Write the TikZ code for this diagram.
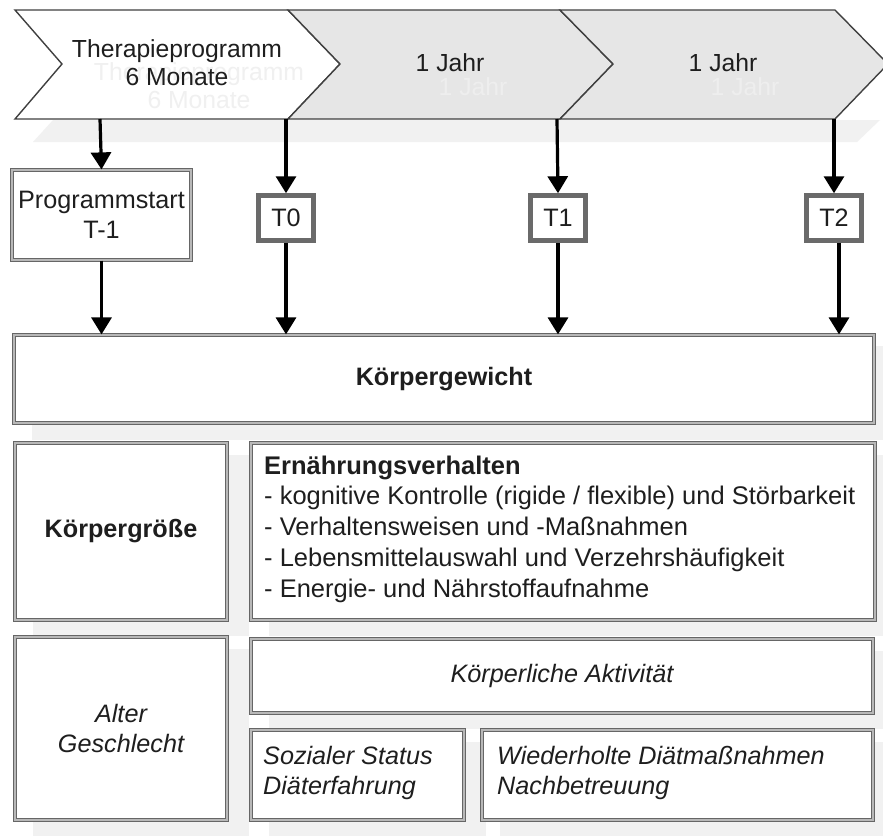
\documentclass[tikz,border=0pt]{standalone}
\usepackage{fontspec}
\setmainfont{Liberation Sans}
\usetikzlibrary{arrows.meta}
\definecolor{boxline}{HTML}{666666}
\definecolor{boxgap}{HTML}{B8B8B8}
\definecolor{tline}{HTML}{6A6A6A}
\definecolor{chevline}{HTML}{404040}
\definecolor{chevfill}{HTML}{E6E6E6}
\definecolor{shadc}{HTML}{F1F1F1}
\definecolor{ghostc}{HTML}{F0F0F0}
\definecolor{ghostd}{HTML}{EEEEEE}
\definecolor{txtc}{HTML}{1E1E1E}
\tikzset{
 chev/.style={draw=chevline, line width=1.4pt, line join=miter},
 dbox/.style={draw=boxline, double=boxgap, double distance=1.6pt, line width=1.2pt, fill=white, inner sep=0pt, text=txtc, align=center},
 tbox/.style={draw=tline, line width=4.5pt, fill=white, minimum width=55pt, minimum height=45pt, inner sep=0pt, text=txtc},
 arr/.style={draw=black, line width=3.2pt, -{Triangle[length=17pt,width=20pt]}},
 shad/.style={fill=shadc, draw=none},
 ghost/.style={align=center, inner sep=0pt, font=\fontsize{24.7}{28}\selectfont},
 txt/.style={text=txtc, inner sep=0pt},
}
\begin{document}
\begin{tikzpicture}[x=1pt,y=-1pt, font=\fontsize{25.2}{30}\selectfont]
\useasboundingbox (0,0) rectangle (883,836);
\fill[white] (0,0) rectangle (883,836);
% faint reflection band below chevrons
\fill[shadc] (33,142) -- (53,120) -- (880,120) -- (857,142) -- cycle;
% faint shadows of the lower boxes
\fill[shad] (32,346) rectangle (883,440);
\fill[shad] (33,455) rectangle (249,636);
\fill[shad] (269,455) rectangle (883,636);
\fill[shad] (33,649) rectangle (249,836);
\fill[shad] (269,651) rectangle (883,729);
\fill[shad] (269,742) rectangle (486,836);
\fill[shad] (500,742) rectangle (883,836);
% chevrons
\draw[chev, fill=white] (15,10) -- (288,10) -- (340,64) -- (288,119) -- (15,119) -- (62,64) -- cycle;
\draw[chev, fill=chevfill] (288,10) -- (560,10) -- (613,64) -- (560,119) -- (288,119) -- (340,64) -- cycle;
\draw[chev, fill=chevfill] (560,10) -- (835,10) -- (888,64) -- (835,119) -- (560,119) -- (613,64) -- cycle;
% ghost texts
\node[ghost, text=ghostc] (g1) at (199,86) {Therapieprogramm\\6 Monate};
\node[ghost, text=ghostd] (g2) at (473,87) {1 Jahr};
\node[ghost, text=ghostd] (g3) at (745,87) {1 Jahr};
% chevron texts
\node[txt, align=center, font=\fontsize{24.7}{28}\selectfont] (p1) at (177,63) {Therapieprogramm\\6 Monate};
\node[txt, font=\fontsize{24.7}{28}\selectfont] (p2) at (450,63) {1 Jahr};
\node[txt, font=\fontsize{24.7}{28}\selectfont] (p3) at (723,63) {1 Jahr};
% chevron bottom points
\coordinate (c1) at (100,119);
\coordinate (c2) at (286,119);
\coordinate (c3) at (557,119);
\coordinate (c4) at (834,119);
% measurement boxes
\node[dbox, minimum width=179pt, minimum height=90pt] (ps) at (101.5,215) {Programmstart\\T-1};
\node[tbox] (t0) at (286,218) {T0};
\node[tbox] (t1) at (558,218) {T1};
\node[tbox] (t2) at (834,218) {T2};
% lower boxes
\node[dbox, minimum width=860pt, minimum height=88pt] (kg) at (444,379) {\textbf{Körpergewicht}};
\node[dbox, minimum width=212pt, minimum height=177pt] (kgr) at (121,531.5) {\textbf{Körpergröße}};
\node[dbox, minimum width=624pt, minimum height=177pt] (ev) at (563,531.5) {};
\node[txt, anchor=west, align=left, font=\fontsize{25.5}{30.7}\selectfont] (evt) at (264,529) {\textbf{Ernährungsverhalten}\\- kognitive Kontrolle (rigide / flexible) und Störbarkeit\\- Verhaltensweisen und -Maßnahmen\\- Lebensmittelauswahl und Verzehrshäufigkeit\\- Energie- und Nährstoffaufnahme};
\node[dbox, minimum width=212pt, minimum height=183pt] (alt) at (121,728.5) {\itshape Alter\\\itshape Geschlecht};
\node[dbox, minimum width=622pt, minimum height=74pt] (ka) at (562,676) {\itshape Körperliche Aktivität};
\node[dbox, minimum width=213pt, minimum height=90pt] (soz) at (357.5,775) {};
\node[txt, anchor=west, align=left] (sozt) at (263,773) {\itshape Sozialer Status\\\itshape Diäterfahrung};
\node[dbox, minimum width=391pt, minimum height=90pt] (wd) at (677.5,775) {};
\node[txt, anchor=west, align=left] (wdt) at (497,773) {\itshape Wiederholte Diätmaßnahmen\\\itshape Nachbetreuung};
% arrows
\draw[arr] (c1) -- (ps.north);
\draw[arr] (c2) -- (t0.north);
\draw[arr] (c3) -- (t1.north);
\draw[arr] (c4) -- (t2.north);
\draw[arr] (ps.south) -- (ps.south |- kg.north);
\draw[arr] (t0.south) -- (t0.south |- kg.north);
\draw[arr] (t1.south) -- (t1.south |- kg.north);
\draw[arr] ([xshift=5pt]t2.south) -- ([xshift=5pt]t2.south |- kg.north);
\end{tikzpicture}
\end{document}
